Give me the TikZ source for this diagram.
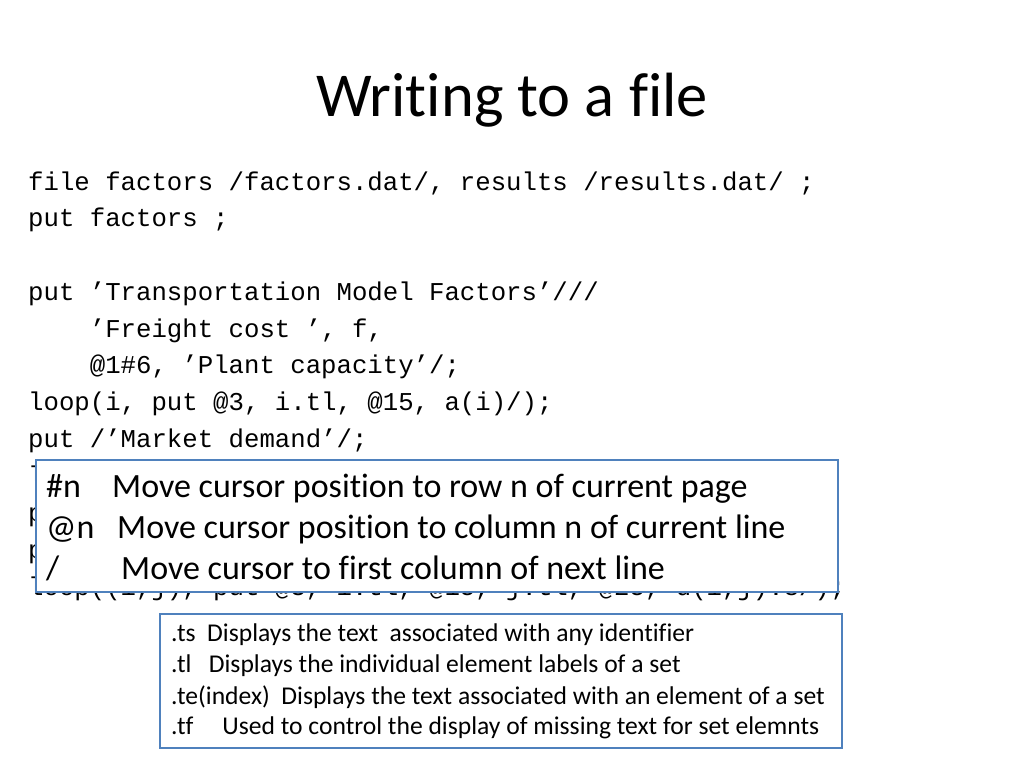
\documentclass[tikz,border=0pt]{standalone}
\usepackage{fontspec}
\setmainfont[Ligatures=NoCommon]{Carlito}
\newfontfamily\codefont{Liberation Mono}
\definecolor{boxblue}{HTML}{4F81BD}
\begin{document}
\begin{tikzpicture}[x=1pt,y=-1pt,
  code/.style={anchor=west,inner sep=0,font=\codefont\fontsize{25.7}{27}\selectfont},
  big/.style={anchor=base west,inner sep=0,font=\fontsize{34}{36}\selectfont},
  small/.style={anchor=west,inner sep=0,font=\fontsize{25.6}{27}\selectfont},
  infobox/.style={draw=boxblue,line width=2pt,fill=white}]
\useasboundingbox (0,0) rectangle (1024,768);
\node[inner sep=0,font=\fontsize{62.5}{66}\selectfont] (title) at (512,100) {Writing to a file};
\node[code] (c1) at (28,183) {file factors /factors.dat/, results /results.dat/ ;};
\node[code] (c2) at (28,220) {put factors ;};
\node[code] (c3) at (28,294) {put ’Transportation Model Factors’///};
\node[code] (c4) at (28,331) {\ \ \ \ ’Freight cost ’, f,};
\node[code] (c5) at (28,367) {\ \ \ \ @1\#6, ’Plant capacity’/;};
\node[code] (c6) at (28,404) {loop(i, put @3, i.tl, @15, a(i)/);};
\node[code] (c7) at (28,441) {put /’Market demand’/;};
\node[code] (c8) at (28,478) {loop(j, put @3, j.tl, @15, b(j)/);};
\node[code] (c9) at (28,515) {put ///’Distances’/;};
\node[code] (c10) at (28,552) {put @15, j.tl /;};
\node[code] (c11) at (28,589) {loop((i,j), put @3, i.tl, @15, j.tl, @25, d(i,j):8/);};
\draw[infobox] (36,460) rectangle (838,592);
\node[big] (b1) at (46,497) {\#n};
\node[big] (b1t) at (112,497) {Move cursor position to row n of current page};
\node[big] (b2) at (46,538) {@n};
\node[big] (b2t) at (117,538) {Move cursor position to column n of current line};
\node[big] (b3) at (46,579) {/};
\node[big] (b3t) at (121,579) {Move cursor to first column of next line};
\draw[infobox] (160,614) rectangle (842,748);
\node[small] (s1) at (171,635) {.ts\ \ Displays the text\ \ associated with any identifier};
\node[small] (s2) at (171,666) {.tl\ \ \ Displays the individual element labels of a set};
\node[small] (s3) at (171,697) {.te(index)\ \ Displays the text associated with an element of a set};
\node[small] (s4) at (171,728) {.tf\ \ \ \ \ Used to control the display of missing text for set elemnts};
\end{tikzpicture}
\end{document}
